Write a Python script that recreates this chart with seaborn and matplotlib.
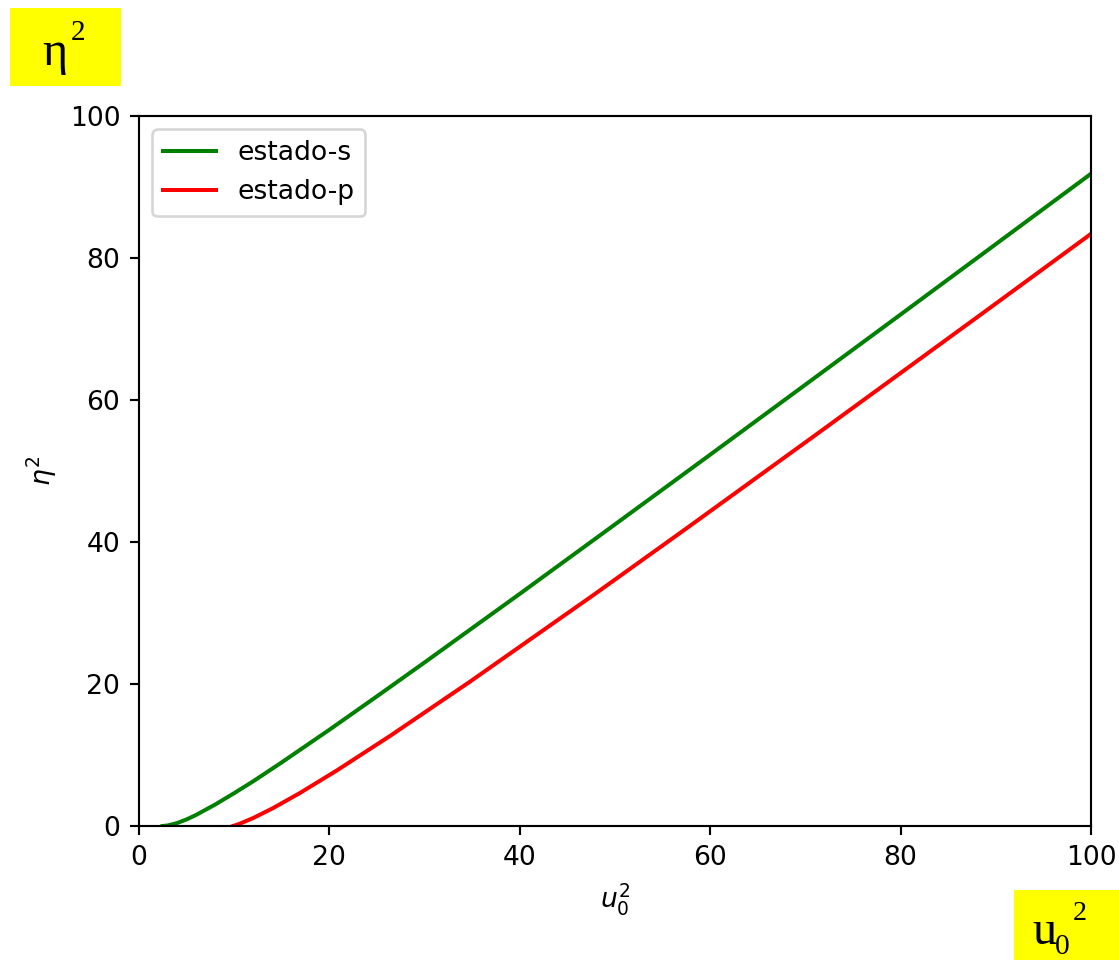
import matplotlib
matplotlib.use("Agg")
import matplotlib.pyplot as plt
import seaborn as sns
import pandas as pd
from matplotlib.patches import Rectangle

# data
s_u2 = [2.47, 3, 4, 5, 6, 8, 10, 12, 15, 20, 25, 30, 40, 50, 60, 70, 80, 90, 100]
s_eta2 = [0.0, 0.07, 0.41, 0.93, 1.56, 3.02, 4.63, 6.3, 8.97, 13.56, 18.27, 23.04, 32.7, 42.48, 52.3, 62.16, 72.04, 81.95, 91.87]

p_u2 = [9.87, 10.53, 12.04, 14.08, 16.88, 20.79, 26.4, 34.79, 47.87, 57.8, 71.2, 88.84, 100]
p_eta2 = [0.0, 0.29, 1.15, 2.52, 4.63, 7.83, 12.71, 20.35, 32.66, 42.2, 55.2, 72.44, 83.4]

labels = ["estado-s", "estado-p"]
colors = ["green", "red"]
xticks = [0, 20, 40, 60, 80, 100]
yticks = [0, 20, 40, 60, 80, 100]

W, H, DPI = 1119, 960, 192
fig = plt.figure(figsize=(W / DPI, H / DPI), dpi=DPI)
ax = fig.add_axes([139 / W, (H - 826) / H, 952 / W, 710 / H])

df_s = pd.DataFrame({"u2": s_u2, "eta2": s_eta2})
df_p = pd.DataFrame({"u2": p_u2, "eta2": p_eta2})
sns.lineplot(data=df_s, x="u2", y="eta2", ax=ax, color=colors[0], label=labels[0], lw=1.5)
sns.lineplot(data=df_p, x="u2", y="eta2", ax=ax, color=colors[1], label=labels[1], lw=1.5)

ax.set_xlim(0, 100)
ax.set_ylim(0, 100)
ax.set_xticks(xticks)
ax.set_yticks(yticks)
ax.set_xlabel(r"$u_0^2$")
ax.set_ylabel(r"$\eta^2$")
ax.legend(loc="upper left")

# yellow annotation boxes
def ftext(x, y, s, size):
    fig.text(x / W, (H - y) / H, s, fontsize=size, family="Liberation Serif",
             ha="left", va="baseline")

fig.patches.append(Rectangle((10 / W, (H - 86) / H), 111 / W, 78 / H,
                             transform=fig.transFigure, facecolor="yellow", edgecolor="none"))
ftext(42, 65, "η", 18)
ftext(71, 40, "2", 11)

fig.patches.append(Rectangle((1014 / W, 0), 105 / W, 70 / H,
                             transform=fig.transFigure, facecolor="yellow", edgecolor="none"))
ftext(1032, 944, "u", 18)
ftext(1055, 954, "0", 11)
ftext(1073, 920, "2", 10.5)

fig.savefig("out.png", dpi=DPI)
